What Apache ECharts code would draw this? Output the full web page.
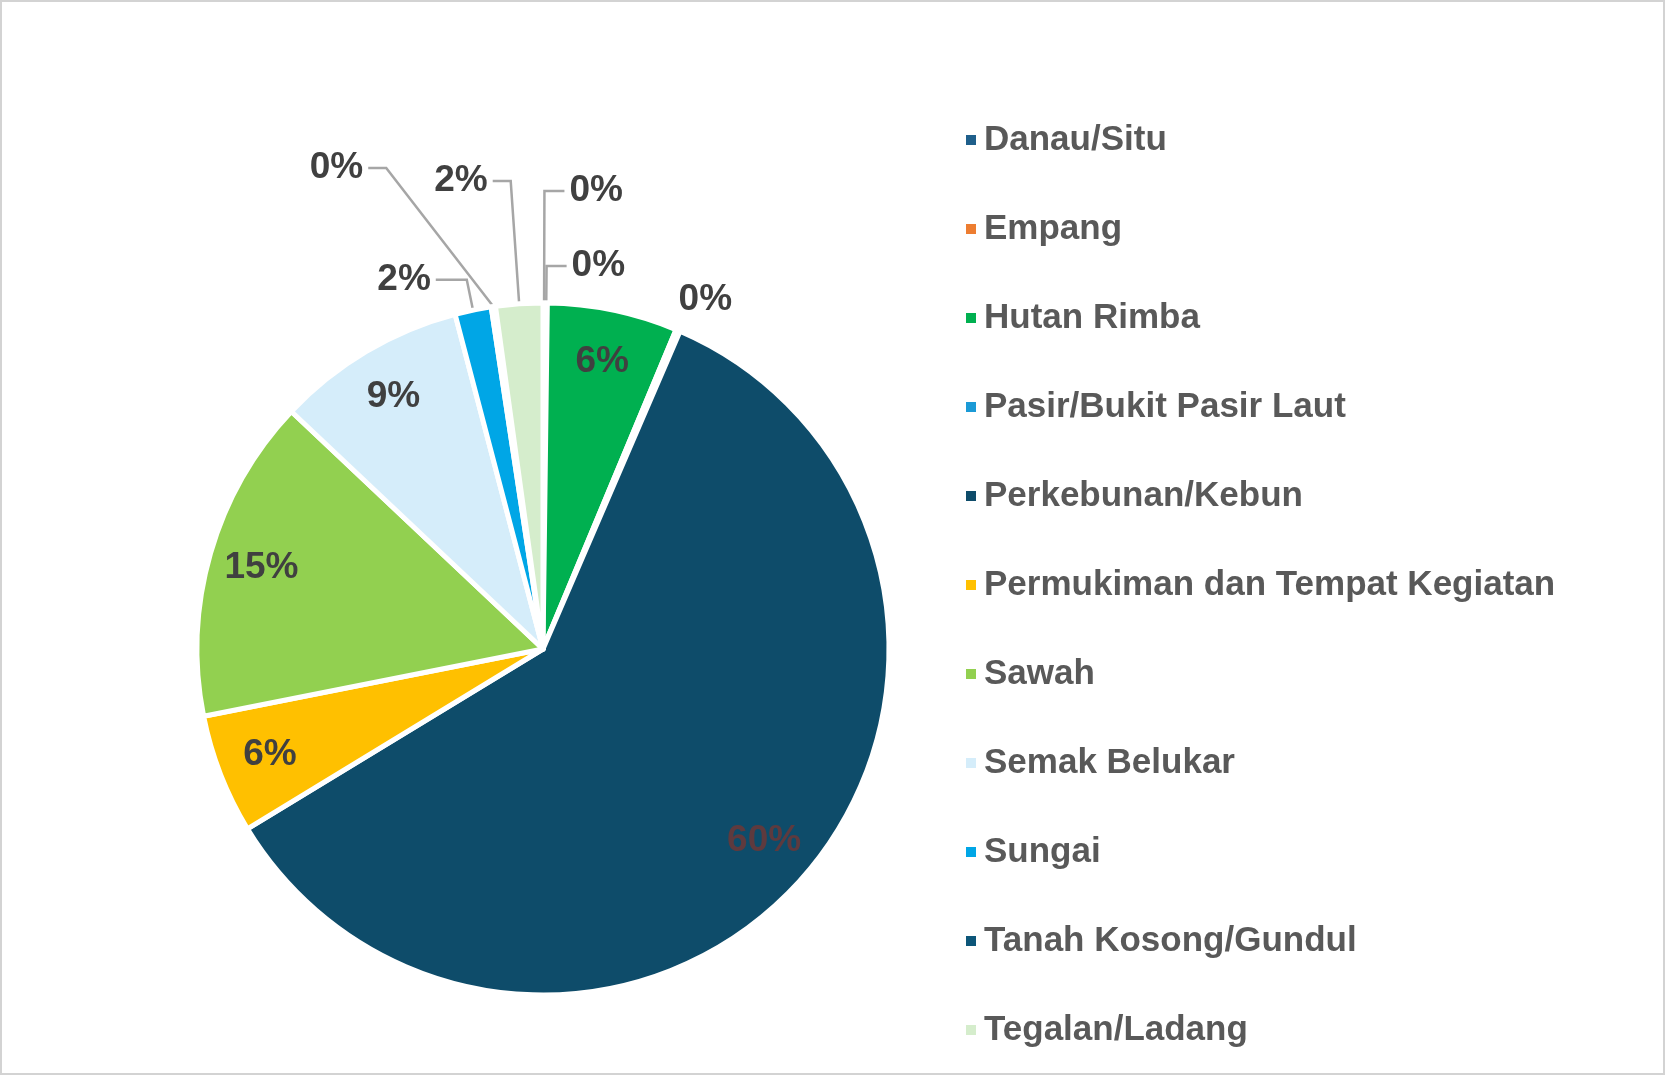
<!DOCTYPE html>
<html>
<head>
<meta charset="utf-8">
<script src="https://cdn.jsdelivr.net/npm/echarts@6/dist/echarts.min.js"></script>
<style>
  html, body { margin: 0; padding: 0; background: #ffffff; }
  #chart { position: absolute; left: 0; top: 0; width: 1665px; height: 1075px; }
  #frame { position: absolute; left: 0; top: 0; width: 1661px; height: 1071px; border: 2px solid #d3d3d3; pointer-events: none; }
</style>
</head>
<body>
<div id="chart"></div>
<div id="frame"></div>
<script>
// ---- data ----
const categories = [
  'Danau/Situ',
  'Empang',
  'Hutan Rimba',
  'Pasir/Bukit Pasir Laut',
  'Perkebunan/Kebun',
  'Permukiman dan Tempat Kegiatan',
  'Sawah',
  'Semak Belukar',
  'Sungai',
  'Tanah Kosong/Gundul',
  'Tegalan/Ladang'
];
const values = [0.1, 0.1, 6.1, 0.2, 60.0, 5.6, 15.2, 8.9, 1.7, 0.2, 2.2];

// ---- styles ----
const colors = {
  'Danau/Situ': '#1F5F8B',
  'Empang': '#ED7D31',
  'Hutan Rimba': '#00B050',
  'Pasir/Bukit Pasir Laut': '#1B9AD6',
  'Perkebunan/Kebun': '#0E4C6A',
  'Permukiman dan Tempat Kegiatan': '#FFC000',
  'Sawah': '#92D050',
  'Semak Belukar': '#D5EDFA',
  'Sungai': '#00A6E6',
  'Tanah Kosong/Gundul': '#0D5679',
  'Tegalan/Ladang': '#D5EDCC'
};
// slices labelled inside the pie
const insideLabelColor = {
  'Hutan Rimba': '#404040',
  'Perkebunan/Kebun': '#5E3A3E',
  'Permukiman dan Tempat Kegiatan': '#404040',
  'Sawah': '#404040',
  'Semak Belukar': '#404040'
};
// leader-line lengths [radial, horizontal, showLine] for outside labels
const outsideLines = {
  'Danau/Situ': [112, 20, true],
  'Empang': [37, 20, true],
  'Pasir/Bukit Pasir Laut': [22, 0, false],
  'Sungai': [31, 31, true],
  'Tanah Kosong/Gundul': [140, 105, true],
  'Tegalan/Ladang': [123, 18, true]
};
// small label nudges (label placement only)
const labelNudge = {
  'Pasir/Bukit Pasir Laut': [-13, -10]
};
// labels whose leader line runs diagonally before the horizontal tail
const diagonalLeader = { 'Tanah Kosong/Gundul': 18 };

const FONT = "'Liberation Sans', Arial, sans-serif";
const total = values.reduce((a, b) => a + b, 0);
const pctText = v => Math.round(v / total * 100) + '%';

const mainData = categories.map((name, i) => {
  const item = {
    name: name,
    value: values[i],
    itemStyle: { color: colors[name] }
  };
  const ol = outsideLines[name];
  if (ol) {
    item.label = { show: true };
    item.labelLine = { show: ol[2], length: ol[0], length2: ol[1] };
  } else {
    item.label = { show: false };
    item.labelLine = { show: false };
  }
  return item;
});

const overlayData = categories.map((name, i) => {
  const c = insideLabelColor[name];
  return {
    name: name,
    value: values[i],
    label: c ? { show: true, color: c } : { show: false }
  };
});

const chart = echarts.init(document.getElementById('chart'), null, { renderer: 'canvas' });
chart.setOption({
  backgroundColor: '#ffffff',
  animation: false,
  legend: {
    orient: 'vertical',
    left: 959,
    top: 115,
    itemWidth: 12,
    itemHeight: 12,
    itemGap: 49,
    icon: 'rect',
    data: categories,
    textStyle: {
      fontFamily: FONT,
      fontSize: 35,
      fontWeight: 'bold',
      color: '#595959',
      lineHeight: 40,
      padding: [0, 0, 0, 2]
    }
  },
  series: [
    {
      type: 'pie',
      center: [543, 649],
      radius: [0, 346],
      startAngle: 90,
      clockwise: true,
      avoidLabelOverlap: false,
      silent: true,
      itemStyle: { borderColor: '#ffffff', borderWidth: 5 },
      label: {
        position: 'outside',
        formatter: p => pctText(p.value),
        fontFamily: FONT,
        fontSize: 37,
        fontWeight: 'bold',
        color: '#404040',
        padding: [0, 0, 28, 0],
        distanceToLabelLine: 5
      },
      labelLine: {
        lineStyle: { color: '#a6a6a6', width: 2.5 }
      },
      labelLayout: function (params) {
        const name = categories[params.dataIndex];
        const out = {};
        if (labelNudge[name]) {
          out.dx = labelNudge[name][0];
          out.dy = labelNudge[name][1];
        }
        if (diagonalLeader[name] && params.labelLinePoints && params.labelLinePoints.length === 3) {
          const p = params.labelLinePoints;
          out.labelLinePoints = [p[0], [p[2][0] + diagonalLeader[name], p[2][1]], p[2]];
        }
        return out;
      },
      data: mainData
    },
    {
      type: 'pie',
      center: [543, 649],
      radius: [234, 346],
      startAngle: 90,
      clockwise: true,
      avoidLabelOverlap: false,
      silent: true,
      itemStyle: { color: 'rgba(0,0,0,0)', borderWidth: 0 },
      label: {
        position: 'inside',
        formatter: p => pctText(p.value),
        fontFamily: FONT,
        fontSize: 37,
        fontWeight: 'bold',
        color: '#404040'
      },
      labelLine: { show: false },
      data: overlayData
    }
  ]
});
</script>
</body>
</html>
